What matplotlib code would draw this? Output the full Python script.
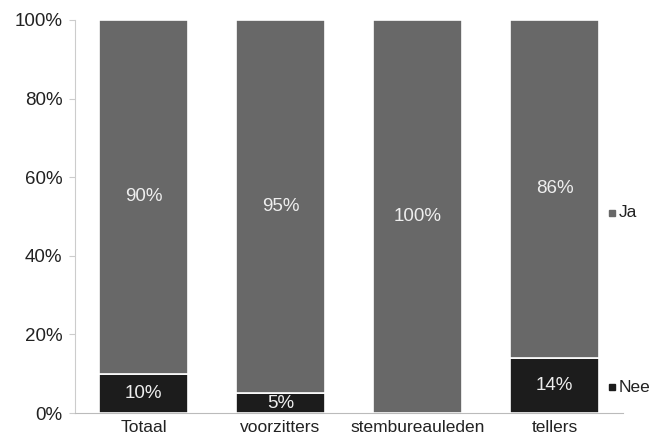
import matplotlib
matplotlib.use('Agg')
import matplotlib.pyplot as plt

categories = ['Totaal', 'voorzitters', 'stembureauleden', 'tellers']
nee = [10, 5, 0, 14]
ja = [90, 95, 100, 86]
ja_color = '#686868'
nee_color = '#1c1c1c'

plt.rcParams['font.family'] = ['Liberation Sans', 'DejaVu Sans']

fig = plt.figure(figsize=(6.51, 4.43), dpi=100)
ax = fig.add_axes([0.1152, 0.0677, 0.957 - 0.1152, 0.9549 - 0.0677])

x = range(len(categories))
b1 = ax.bar(x, nee, width=0.65, color=nee_color, edgecolor='white', linewidth=1.2)
b2 = ax.bar(x, ja, bottom=nee, width=0.65, color=ja_color, edgecolor='white', linewidth=1.2)

for i in x:
    if nee[i] > 0:
        ax.text(i, nee[i] / 2, f'{nee[i]}%', ha='center', va='center',
                color='#eeeeee', fontsize=13.5)
    ax.text(i, nee[i] + ja[i] / 2, f'{ja[i]}%', ha='center', va='center',
            color='#eeeeee', fontsize=13.5)

ax.set_xlim(-0.5, 3.5)
ax.set_ylim(0, 100)
ax.set_yticks(range(0, 101, 20))
ax.set_yticklabels([f'{v}%' for v in range(0, 101, 20)], fontsize=13.5, color='#222222')
ax.set_xticks(list(x))
ax.set_xticklabels(categories, fontsize=12.5, color='#222222')
ax.tick_params(axis='x', length=0, pad=5)
ax.tick_params(axis='y', length=4, color='#cccccc', pad=5)
for s in ['top', 'right']:
    ax.spines[s].set_visible(False)
ax.spines['left'].set_color('#cccccc')
ax.spines['bottom'].set_color('#bbbbbb')

# series labels on the right, excel style
for label, color, yv in [('Ja', ja_color, 51), ('Nee', nee_color, 6.6)]:
    ax.plot([3.42], [yv], marker='s', markersize=4.5, color=color, clip_on=False)
    ax.text(3.47, yv, label, va='center', ha='left', fontsize=12.5,
            color='#222222', clip_on=False)

fig.savefig('out.png', dpi=100)
